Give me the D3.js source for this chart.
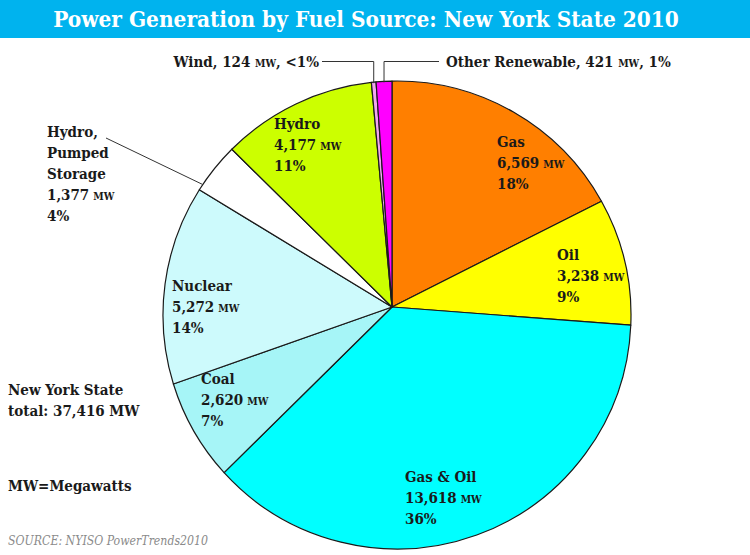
<!DOCTYPE html>
<html><head><meta charset="utf-8">
<script src="https://d3js.org/d3.v7.min.js"></script>
<style>body{margin:0;background:#fff}svg{display:block}</style>
</head><body><svg id="c" width="750" height="555"></svg>
<script>
const title = "Power Generation by Fuel Source: New York State 2010";
const categories = ["Gas","Oil","Gas & Oil","Coal","Nuclear","Hydro, Pumped Storage","Hydro","Wind","Other Renewable"];
const megawatts = [6569,3238,13618,2620,5272,1377,4177,124,421];
const mwLabels = ["6,569","3,238","13,618","2,620","5,272","1,377","4,177","124","421"];
const percentLabels = ["18%","9%","36%","7%","14%","4%","11%","<1%","1%"];
const totalLabel = "total: 37,416 MW";
const sourceLabel = "SOURCE: NYISO PowerTrends2010";

const sliceColors = ["#ff7f00","#ffff00","#00ffff","#a6f5f7","#cdfafc","#ffffff","#ccff00","#f2a6f0","#ff00ff"];

const W = 750, H = 555;
const cx = 397, cy = 315, R = 234;      // circle
const ax = 392, ay = 307;               // point where the wedges meet (slightly off-centre, as in the source)
const FONT = "'DejaVu Serif Condensed', 'DejaVu Serif', serif";
const svg = d3.select("#c");

// title bar
svg.append("rect").attr("x",0).attr("y",0).attr("width",W).attr("height",38).attr("fill","#00b3ee");
svg.append("text").attr("x",366).attr("y",27).attr("text-anchor","middle")
  .attr("font-family",FONT).attr("font-weight","bold").attr("font-size",22.4)
  .attr("fill","#fff").text(title);

const data = categories.map((c,i)=>({cat:c, mw:megawatts[i], mwl:mwLabels[i], pct:percentLabels[i]}));
const color = d3.scaleOrdinal().domain(categories).range(sliceColors);
const pie = d3.pie().sort(null).value(d=>d.mw).startAngle(0).endAngle(2*Math.PI);
const arcs = pie(data);

// point where a ray from the apex at pie-angle `ang` meets the circle
function rim(ang){
  const dx = Math.sin(ang), dy = -Math.cos(ang);
  const px = ax-cx, py = ay-cy;
  const b = dx*px + dy*py;
  const t = -b + Math.sqrt(b*b - (px*px+py*py) + R*R);
  return [ax + t*dx, ay + t*dy];
}
function wedge(a){
  const p0 = rim(a.startAngle), p1 = rim(a.endAngle);
  const a0 = Math.atan2(p0[1]-cy, p0[0]-cx), a1 = Math.atan2(p1[1]-cy, p1[0]-cx);
  const p = d3.path();
  p.moveTo(ax, ay);
  p.lineTo(p0[0], p0[1]);
  p.arc(cx, cy, R, a0, a1, false);
  p.closePath();
  return p.toString();
}

svg.append("g").selectAll("path").data(arcs).join("path")
  .attr("d",wedge).attr("fill",d=>color(d.data.cat))
  .attr("stroke","#1a1a1a").attr("stroke-width",1.2).attr("stroke-linejoin","round");

// label layout (positions of text blocks)
const labelLayout = {
  "Gas":      {x:497, y:147, lines:["Gas"]},
  "Oil":      {x:557, y:260, lines:["Oil"]},
  "Gas & Oil":{x:405, y:482, lines:["Gas & Oil"]},
  "Coal":     {x:201, y:384, lines:["Coal"]},
  "Nuclear":  {x:172, y:291, lines:["Nuclear"]},
  "Hydro, Pumped Storage": {x:47, y:137, lines:["Hydro,","Pumped","Storage"]},
  "Hydro":    {x:274, y:129, lines:["Hydro"]}
};
const LH = 21;
const FS = 15, FSS = 10.5;
const labels = svg.append("g").attr("font-family",FONT).attr("font-weight","bold").attr("fill","#1a1a1a");
data.forEach(d=>{
  const L = labelLayout[d.cat];
  if(!L) return;
  const t = labels.append("text").attr("font-size",FS);
  L.lines.forEach((ln,i)=>{
    t.append("tspan").attr("x",L.x).attr("y",L.y+i*LH).text(ln);
  });
  const n = L.lines.length;
  t.append("tspan").attr("x",L.x).attr("y",L.y+n*LH).text(d.mwl);
  t.append("tspan").attr("font-size",FSS).attr("dx",4).text("MW");
  t.append("tspan").attr("x",L.x).attr("y",L.y+(n+1)*LH).text(d.pct);
});

// small slice callouts at the top
const byCat = {}; arcs.forEach(a=>byCat[a.data.cat]=a);
function edgePoint(a, frac){
  return rim(a.startAngle + (a.endAngle-a.startAngle)*frac);
}
const leaderY = 61.5;
const wind = byCat["Wind"], oth = byCat["Other Renewable"];
const pw = edgePoint(wind,0.5), po = edgePoint(oth,0.5);
const lead = svg.append("g").attr("fill","none").attr("stroke","#333").attr("stroke-width",1);
lead.append("path").attr("d",`M322,${leaderY}H${pw[0]}V${pw[1]+1}`);
lead.append("path").attr("d",`M439,${leaderY}H${po[0]}V${po[1]+1}`);
const ph = edgePoint(byCat["Hydro, Pumped Storage"],0.12);
lead.append("path").attr("d",`M106,138L${ph[0]},${ph[1]}`);

const topLabels = svg.append("g").attr("font-family",FONT).attr("font-weight","bold").attr("fill","#1a1a1a").attr("font-size",FS);
const tw = topLabels.append("text").attr("x",319).attr("y",67).attr("text-anchor","end");
tw.append("tspan").text(wind.data.cat+", "+wind.data.mwl+" ");
tw.append("tspan").attr("font-size",FSS).text("MW");
tw.append("tspan").text(", "+wind.data.pct);
const to = topLabels.append("text").attr("x",446).attr("y",67);
to.append("tspan").text(oth.data.cat+", "+oth.data.mwl+" ");
to.append("tspan").attr("font-size",FSS).text("MW");
to.append("tspan").text(", "+oth.data.pct);

// side notes
const notes = svg.append("g").attr("font-family",FONT).attr("font-weight","bold").attr("fill","#1a1a1a").attr("font-size",FS);
notes.append("text").attr("x",8).attr("y",395).text("New York State");
notes.append("text").attr("x",8).attr("y",416).text(totalLabel);
notes.append("text").attr("x",8).attr("y",491).text("MW=Megawatts");
svg.append("text").attr("x",8).attr("y",545).attr("font-family",FONT).attr("font-style","italic")
  .attr("font-size",12.2).attr("fill","#8a8a8a").text(sourceLabel);
</script></body></html>
